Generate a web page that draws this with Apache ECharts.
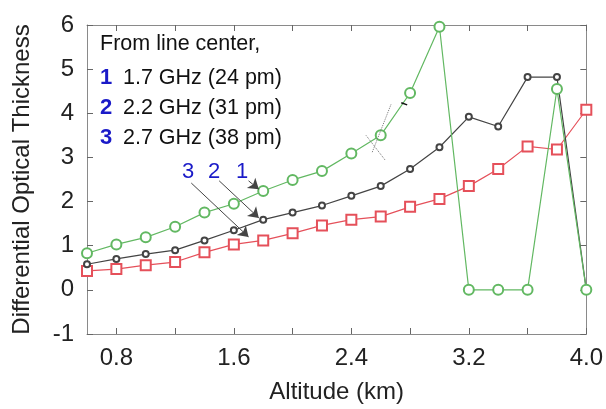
<!DOCTYPE html>
<html>
<head>
<meta charset="utf-8">
<script src="https://cdn.jsdelivr.net/npm/echarts@6/dist/echarts.min.js"></script>
<style>
  html, body { margin: 0; padding: 0; background: #fff; }
  #chart { width: 606px; height: 409px; }
</style>
</head>
<body>
<div id="chart"></div>
<script>
// altitude (km)
const altitude = [0.6, 0.8, 1.0, 1.2, 1.4, 1.6, 1.8, 2.0, 2.2, 2.4, 2.6, 2.8, 3.0, 3.2, 3.4, 3.6, 3.8, 4.0]
// 1.7 GHz (24 pm)
const dot17 = [0.83, 1.03, 1.19, 1.43, 1.75, 1.95, 2.24, 2.49, 2.69, 3.09, 3.5, 4.46, 5.96, 0, 0, 0, 4.55, 0]
// 2.2 GHz (31 pm)
const dot22 = [0.58, 0.70, 0.81, 0.90, 1.12, 1.35, 1.59, 1.75, 1.91, 2.13, 2.35, 2.74, 3.23, 3.92, 3.70, 4.82, 4.82, 0]
// 2.7 GHz (38 pm)
const dot27 = [0.43, 0.47, 0.56, 0.63, 0.85, 1.03, 1.12, 1.28, 1.46, 1.59, 1.66, 1.88, 2.06, 2.35, 2.74, 3.25, 3.18, 4.08]

const xTicks = [0.8, 1.2, 1.6, 2.0, 2.4, 2.8, 3.2, 3.6, 4.0]
const xLabels = [0.8, 1.6, 2.4, 3.2, 4.0]

const legendLines = ['1.7 GHz (24 pm)', '2.2 GHz (31 pm)', '2.7 GHz (38 pm)']

const font = 'Liberation Sans'
const blue = '#1a1ac8'
const pair = (ys) => altitude.map((x, i) => [x, ys[i]])

var myChart = echarts.init(document.getElementById('chart'), null, { renderer: 'canvas' })

const xBase = {
  type: 'value',
  min: 0.6,
  max: 4.0,
  axisLine: { onZero: false, lineStyle: { color: '#8a8a8a', width: 1 } },
  axisTick: { inside: true, length: 6, customValues: xTicks, lineStyle: { color: '#666' } },
  splitLine: { show: false }
}
const yBase = {
  type: 'value',
  min: -1,
  max: 6,
  interval: 1,
  axisLine: { show: true, onZero: false, lineStyle: { color: '#8a8a8a', width: 1 } },
  axisTick: { inside: true, length: 6, lineStyle: { color: '#666' } },
  splitLine: { show: false }
}

// legend box text, one line each
const legendText = [
  { type: 'text', left: 100, top: 33, style: { text: 'From line center,', font: '21.5px "Liberation Sans"', fill: '#111' } }
]
legendLines.forEach((t, i) => {
  const top = 67 + i * 30
  legendText.push({ type: 'text', left: 100, top: top, style: { text: String(i + 1), font: 'bold 22px "Liberation Sans"', fill: blue } })
  legendText.push({ type: 'text', left: 123, top: top, style: { text: t, font: '21.5px "Liberation Sans"', fill: '#111' } })
})

myChart.setOption({
  animation: false,
  textStyle: { fontFamily: font },
  grid: { left: 87, right: 18, top: 25, bottom: 71 },
  xAxis: [
    Object.assign({}, xBase, {
      position: 'bottom',
      name: 'Altitude (km)',
      nameLocation: 'middle',
      nameGap: 46,
      nameTextStyle: { fontSize: 24, color: '#222', fontFamily: font },
      axisLabel: { customValues: xLabels, fontSize: 24, color: '#222', margin: 12,
        formatter: v => v.toFixed(1) }
    }),
    Object.assign({}, xBase, { position: 'top', axisLabel: { show: false } })
  ],
  yAxis: [
    Object.assign({}, yBase, {
      position: 'left',
      name: 'Differential Optical Thickness',
      nameLocation: 'middle',
      nameGap: 53,
      nameTextStyle: { fontSize: 24, color: '#222', fontFamily: font },
      axisLabel: { fontSize: 24, color: '#222', margin: 13 }
    }),
    Object.assign({}, yBase, { position: 'right', axisLabel: { show: false } })
  ],
  series: [
    {
      name: '1.7 GHz',
      type: 'line',
      data: pair(dot17),
      symbol: 'emptyCircle',
      symbolSize: 10,
      lineStyle: { color: '#62b862', width: 1.2 },
      itemStyle: { color: '#62b862', borderColor: '#62b862', borderWidth: 1 },
      z: 3,
      markLine: {
        silent: true,
        symbol: ['none', 'arrow'],
        symbolSize: 10,
        lineStyle: { color: '#444', width: 1, type: 'solid' },
        itemStyle: { color: '#111' },
        label: { show: false },
        data: [
          [{ coord: [1.70, 2.47] }, { coord: [1.77, 2.28] }],
          [{ coord: [1.50, 2.47] }, { coord: [1.77, 1.63] }],
          [{ coord: [1.31, 2.42] }, { coord: [1.70, 1.20] }],
          // faint dotted construction lines near 2.6 km
          [{ coord: [2.67, 4.20], symbol: 'none', lineStyle: { type: 'dotted', color: '#777' } },
           { coord: [2.54, 3.10], symbol: 'none' }],
          [{ coord: [2.50, 3.50], symbol: 'none', lineStyle: { type: 'dotted', color: '#777' } },
           { coord: [2.63, 2.94], symbol: 'none' }],
          [{ coord: [2.74, 4.24], symbol: 'none', lineStyle: { color: '#111', width: 1.5 } },
           { coord: [2.78, 4.19], symbol: 'none' }]
        ]
      }
    },
    {
      name: '2.2 GHz',
      type: 'line',
      data: pair(dot22),
      symbol: 'emptyCircle',
      symbolSize: 6,
      lineStyle: { color: '#444', width: 1.2 },
      itemStyle: { color: '#444', borderColor: '#444', borderWidth: 1 },
      z: 2
    },
    {
      name: '2.7 GHz',
      type: 'line',
      data: pair(dot27),
      symbol: 'emptyRect',
      symbolSize: 10,
      lineStyle: { color: '#e5505a', width: 1.2 },
      itemStyle: { color: '#e5505a', borderColor: '#e5505a', borderWidth: 1 },
      z: 1
    }
  ],
  graphic: legendText.concat([
    { type: 'text', left: 182, top: 161, style: { text: '3', font: '22px "Liberation Sans"', fill: blue } },
    { type: 'text', left: 208, top: 161, style: { text: '2', font: '22px "Liberation Sans"', fill: blue } },
    { type: 'text', left: 236, top: 161, style: { text: '1', font: '22px "Liberation Sans"', fill: blue } }
  ])
})
</script>
</body>
</html>
